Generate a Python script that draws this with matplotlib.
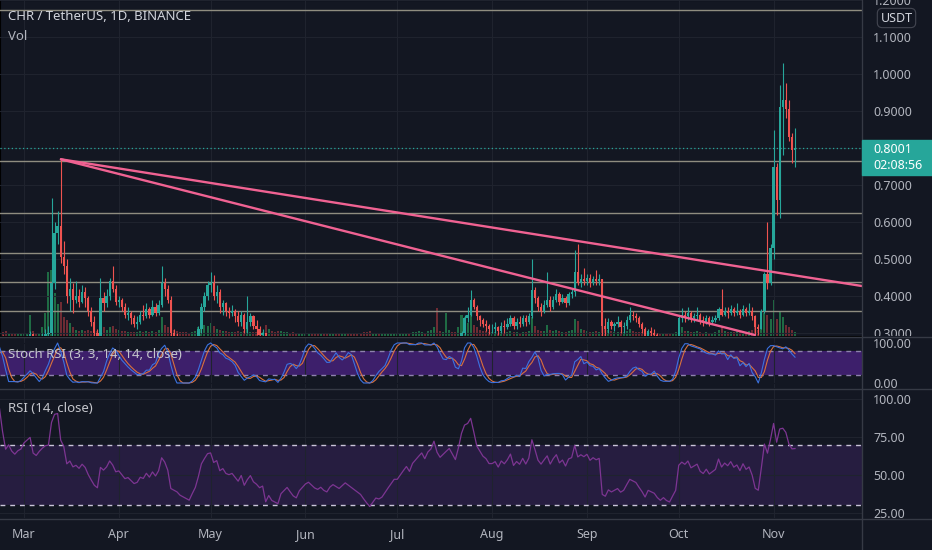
import numpy as np
import pandas as pd
import matplotlib
matplotlib.use("Agg")
import matplotlib.pyplot as plt
from matplotlib.lines import Line2D
from matplotlib.patches import Rectangle
from matplotlib.transforms import Bbox, TransformedBbox

plt.rcParams['font.family'] = ['Noto Sans', 'DejaVu Sans']

# CHR / USDT daily candles from 2021-02-01, one row per month (open = previous close)
start = "2021-02-01"
close = [
    0.120,0.125,0.135,0.130,0.140,0.150,0.145,0.160,0.170,0.180,0.175,0.190,0.200,0.195,0.210,0.220,0.235,0.245,0.260,0.280,0.290,0.265,0.240,0.255,0.245,0.240,0.250,0.255,
    0.275,0.285,0.296,0.272,0.268,0.280,0.290,0.298,0.300,0.435,0.570,0.590,0.505,0.480,0.400,0.420,0.390,0.400,0.385,0.410,0.395,0.360,0.330,0.300,0.285,0.395,0.380,0.400,0.440,0.420,0.385,
    0.390,0.370,0.350,0.355,0.340,0.325,0.330,0.350,0.345,0.365,0.350,0.370,0.355,0.375,0.435,0.420,0.390,0.300,0.290,0.280,0.260,0.250,0.240,0.230,0.250,0.270,0.310,0.370,0.400,0.430,
    0.435,0.400,0.410,0.370,0.380,0.360,0.355,0.360,0.345,0.330,0.350,0.310,0.330,0.345,0.320,0.310,0.295,0.300,0.220,0.240,0.210,0.200,0.190,0.220,0.230,0.240,0.220,0.200,0.190,0.210,0.220,
    0.230,0.235,0.225,0.215,0.210,0.215,0.205,0.200,0.210,0.215,0.210,0.205,0.210,0.215,0.210,0.205,0.200,0.195,0.190,0.180,0.170,0.160,0.165,0.170,0.168,0.170,0.175,0.180,0.185,0.190,
    0.190,0.195,0.200,0.205,0.200,0.210,0.215,0.220,0.225,0.220,0.230,0.235,0.250,0.240,0.235,0.240,0.245,0.250,0.245,0.240,0.260,0.300,0.340,0.350,0.390,0.370,0.345,0.335,0.325,0.320,0.310,
    0.310,0.315,0.305,0.320,0.315,0.325,0.340,0.320,0.330,0.325,0.340,0.330,0.345,0.415,0.395,0.370,0.360,0.375,0.390,0.370,0.390,0.405,0.385,0.395,0.380,0.405,0.410,0.465,0.435,0.445,0.440,
    0.450,0.435,0.445,0.440,0.445,0.320,0.310,0.330,0.320,0.325,0.330,0.315,0.320,0.335,0.350,0.345,0.340,0.325,0.310,0.290,0.305,0.300,0.295,0.280,0.270,0.275,0.265,0.260,0.270,0.280,
    0.340,0.350,0.345,0.355,0.340,0.345,0.350,0.335,0.330,0.340,0.330,0.335,0.340,0.365,0.350,0.360,0.355,0.365,0.355,0.360,0.350,0.365,0.355,0.360,0.345,0.315,0.310,0.360,0.460,0.435,0.530,
    0.750,0.660,0.910,0.930,0.905,0.830,0.795,0.8001,
]
high = [
    0.130,0.135,0.140,0.140,0.145,0.155,0.155,0.165,0.175,0.185,0.185,0.195,0.205,0.205,0.215,0.225,0.240,0.250,0.270,0.290,0.305,0.295,0.270,0.262,0.260,0.255,0.258,0.265,
    0.285,0.295,0.305,0.300,0.280,0.288,0.300,0.310,0.320,0.665,0.600,0.630,0.770,0.550,0.500,0.450,0.435,0.440,0.420,0.430,0.425,0.400,0.370,0.345,0.310,0.450,0.410,0.420,0.450,0.480,0.430,
    0.400,0.395,0.380,0.370,0.360,0.350,0.345,0.360,0.375,0.380,0.370,0.390,0.380,0.390,0.480,0.450,0.430,0.400,0.310,0.300,0.290,0.275,0.265,0.255,0.265,0.285,0.320,0.380,0.410,0.440,
    0.465,0.457,0.430,0.420,0.390,0.385,0.370,0.375,0.365,0.360,0.360,0.355,0.400,0.355,0.350,0.335,0.320,0.310,0.300,0.260,0.245,0.225,0.215,0.235,0.250,0.255,0.245,0.230,0.210,0.225,0.235,
    0.240,0.245,0.240,0.228,0.220,0.225,0.218,0.210,0.218,0.225,0.220,0.215,0.218,0.225,0.220,0.215,0.210,0.205,0.200,0.195,0.185,0.175,0.175,0.180,0.178,0.180,0.185,0.190,0.195,0.200,
    0.198,0.202,0.208,0.212,0.210,0.218,0.222,0.228,0.232,0.230,0.238,0.245,0.262,0.255,0.245,0.248,0.255,0.262,0.255,0.250,0.268,0.305,0.350,0.370,0.416,0.395,0.375,0.350,0.340,0.335,0.325,
    0.325,0.330,0.320,0.330,0.335,0.340,0.350,0.345,0.340,0.345,0.350,0.350,0.355,0.500,0.425,0.400,0.380,0.390,0.465,0.400,0.400,0.420,0.410,0.405,0.400,0.410,0.420,0.525,0.540,0.460,0.475,
    0.460,0.460,0.455,0.470,0.460,0.445,0.340,0.340,0.335,0.330,0.345,0.335,0.330,0.345,0.370,0.360,0.355,0.345,0.330,0.315,0.310,0.315,0.310,0.300,0.285,0.285,0.280,0.272,0.280,0.288,
    0.345,0.368,0.360,0.370,0.360,0.355,0.370,0.355,0.345,0.350,0.345,0.345,0.350,0.370,0.420,0.370,0.370,0.375,0.370,0.380,0.365,0.375,0.370,0.380,0.370,0.350,0.325,0.365,0.465,0.600,0.540,
    0.850,0.760,0.970,1.030,0.975,0.930,0.840,0.854,
]
low = [
    0.110,0.115,0.120,0.125,0.128,0.138,0.140,0.143,0.158,0.168,0.168,0.172,0.188,0.190,0.193,0.205,0.218,0.230,0.240,0.255,0.272,0.255,0.225,0.232,0.238,0.228,0.236,0.244,
    0.250,0.268,0.280,0.265,0.255,0.262,0.275,0.280,0.285,0.290,0.420,0.540,0.490,0.460,0.380,0.360,0.355,0.380,0.370,0.380,0.370,0.345,0.320,0.290,0.270,0.285,0.360,0.370,0.390,0.410,0.375,
    0.370,0.360,0.340,0.335,0.325,0.315,0.310,0.325,0.335,0.340,0.340,0.345,0.345,0.350,0.370,0.400,0.380,0.280,0.270,0.260,0.245,0.235,0.225,0.215,0.225,0.245,0.265,0.300,0.360,0.390,
    0.410,0.390,0.380,0.355,0.350,0.345,0.340,0.345,0.330,0.320,0.320,0.300,0.300,0.320,0.310,0.295,0.285,0.285,0.180,0.200,0.195,0.180,0.170,0.180,0.210,0.220,0.210,0.190,0.175,0.185,0.200,
    0.215,0.225,0.218,0.208,0.200,0.205,0.198,0.192,0.198,0.205,0.202,0.198,0.200,0.205,0.202,0.198,0.192,0.188,0.182,0.170,0.160,0.150,0.155,0.160,0.160,0.162,0.165,0.170,0.176,0.182,
    0.182,0.186,0.190,0.196,0.194,0.198,0.206,0.210,0.216,0.212,0.218,0.226,0.232,0.235,0.228,0.230,0.236,0.240,0.238,0.232,0.238,0.258,0.295,0.330,0.345,0.365,0.335,0.320,0.315,0.305,0.298,
    0.300,0.300,0.295,0.300,0.300,0.310,0.320,0.310,0.310,0.315,0.320,0.320,0.325,0.340,0.380,0.360,0.345,0.355,0.370,0.360,0.365,0.385,0.375,0.380,0.370,0.375,0.395,0.400,0.430,0.425,0.430,
    0.430,0.425,0.430,0.430,0.430,0.290,0.280,0.300,0.310,0.305,0.315,0.300,0.300,0.310,0.330,0.335,0.330,0.315,0.300,0.280,0.285,0.290,0.280,0.270,0.260,0.262,0.255,0.250,0.258,0.265,
    0.280,0.330,0.330,0.335,0.330,0.330,0.335,0.325,0.320,0.325,0.320,0.325,0.330,0.335,0.345,0.345,0.340,0.350,0.345,0.350,0.340,0.345,0.345,0.350,0.335,0.295,0.295,0.310,0.355,0.420,0.430,
    0.500,0.620,0.610,0.780,0.880,0.820,0.760,0.750,
]
volume = [
    3,3,4,3,4,4,3,5,5,6,4,5,6,4,6,6,7,6,8,10,4,4,5,3,3,2,2,3,
    3,3,20,5,3,3,8,22,60,62,40,30,32,18,15,12,8,6,5,6,5,6,5,6,5,14,8,6,8,9,7,
    6,5,5,4,4,4,4,5,4,5,4,5,4,6,18,10,8,14,6,5,4,4,4,3,4,5,8,14,10,9,
    12,9,7,6,5,5,4,4,4,5,4,5,7,4,4,4,4,4,10,7,5,4,5,5,4,4,3,4,3,3,3,
    3,3,3,3,2,3,2,2,3,3,2,2,3,3,2,2,2,3,3,4,4,5,3,3,2,2,2,3,3,3,
    3,3,3,3,3,4,4,5,4,3,5,6,8,26,5,4,22,6,4,4,8,20,18,12,22,10,8,6,5,5,4,
    4,4,3,4,3,4,5,4,4,3,4,4,5,18,9,6,5,5,10,6,5,6,5,4,4,5,6,16,14,7,6,
    5,4,4,5,4,16,9,6,5,4,4,4,4,5,7,5,4,4,4,5,4,3,3,3,3,3,3,3,3,4,
    12,8,5,5,4,4,5,4,3,4,3,3,4,6,9,5,4,4,4,5,4,4,4,5,6,8,6,10,22,20,16,
    34,16,23,18,10,8,6,4,
]

levels = [1.173, 0.7657, 0.6251, 0.5162, 0.4386, 0.3603]
trend_a = [("2021-03-13 02:00", 0.7695), ("2021-11-29 21:00", 0.427)]
trend_b = [("2021-03-13 02:00", 0.7695), ("2021-10-25 21:00", 0.2946)]
last_price = 0.8001
countdown = "02:08:56"
month_names = ["Mar", "Apr", "May", "Jun", "Jul", "Aug", "Sep", "Oct", "Nov"]

BG = '#131722'
GRID = '#1f232e'
SEP = '#363a45'
TXT = '#b2b5be'
UP = '#26a69a'
DN = '#ef5350'

W, H = 932, 550
def fx(px):
    return px / W
def fy(py):
    return 1 - py / H

dates = pd.date_range(start, periods=len(close), freq="D")
c = np.array(close)
o = np.r_[c[0], c[:-1]]
hi = np.array(high)
lo = np.array(low)
up = c >= o
cols = np.where(up, UP, DN)

# indicators
s = pd.Series(c)
delta = s.diff()
gain = delta.clip(lower=0).ewm(alpha=1/14, adjust=False).mean()
loss = (-delta.clip(upper=0)).ewm(alpha=1/14, adjust=False).mean()
rsi = 100 - 100 / (1 + gain / loss)
rlo = rsi.rolling(14).min()
rhi = rsi.rolling(14).max()
stoch = 100 * (rsi - rlo) / (rhi - rlo)
k = stoch.rolling(3).mean()
d = k.rolling(3).mean()

fig = plt.figure(figsize=(9.32, 5.5), dpi=100, facecolor=BG)
pw = fx(862)
ax = fig.add_axes([0, fy(336), pw, 336 / H])
ax_st = fig.add_axes([0, fy(388), pw, 51 / H], sharex=ax)
ax_rsi = fig.add_axes([0, fy(518), pw, 129 / H], sharex=ax)

ax_vol = ax.twinx()
ax_vol.set_zorder(0)
ax.set_zorder(1)
ax.patch.set_visible(False)
ax_vol.set_facecolor(BG)
ax_vol.bar(dates, volume, width=0.66, color=np.where(up, '#1f6b44', '#6e2b33'), linewidth=0)
ax_vol.set_ylim(0, 315)
ax_vol.set_yticks([])
ax_vol.tick_params(right=False, labelright=False)

# candles
ax.vlines(dates, lo, hi, colors=cols, linewidth=0.8, zorder=3)
ax.bar(dates, np.maximum(np.abs(c - o), 0.002), bottom=np.minimum(o, c), width=0.74,
       color=cols, linewidth=0, zorder=4)

for lv in levels:
    ax.axhline(lv, color='#8f8d80', lw=1.0, zorder=2)
ax.axhline(last_price, color=UP, lw=0.9, ls=(0, (1, 2)), zorder=2)

for tl in (trend_a, trend_b):
    ax.plot([pd.Timestamp(tl[0][0]), pd.Timestamp(tl[1][0])], [tl[0][1], tl[1][1]],
            color='#f06292', lw=1.7, zorder=5, solid_capstyle='round')

ax.set_ylim(0.2919, 1.2)
ax.set_yticks(np.arange(0.3, 1.21, 0.1))
ax.set_yticklabels(["%.4f" % v for v in np.arange(0.3, 1.21, 0.1)])
ax.yaxis.tick_right()

# stoch rsi
ax_st.set_facecolor(BG)
ax_st.axhspan(20, 80, color='#3d1f6b', lw=0, zorder=0)
for lv in (20, 80):
    ax_st.axhline(lv, color='#8e82ad', lw=1.0, ls=(0, (3.5, 3.5)), zorder=1)
ax_st.plot(dates, k, color='#3b72e0', lw=0.8, zorder=3)
ax_st.plot(dates, d, color='#d9703c', lw=0.8, zorder=2)
ax_st.set_ylim(-12.5, 115)
ax_st.set_yticks([0, 100])
ax_st.set_yticklabels(["0.00", "100.00"])
ax_st.yaxis.tick_right()

# rsi
ax_rsi.set_facecolor(BG)
ax_rsi.axhspan(30, 70, color='#261d40', lw=0, zorder=0)
for lv in (30, 70):
    ax_rsi.axhline(lv, color='#c9c4d8', lw=1.0, ls=(0, (3.5, 3.5)), zorder=1)
ax_rsi.plot(dates, rsi, color='#7d3592', lw=0.9, zorder=3)
ax_rsi.set_ylim(21.7, 106.6)
ax_rsi.set_yticks([25, 50, 75, 100])
ax_rsi.set_yticklabels(["25.00", "50.00", "75.00", "100.00"])
ax_rsi.yaxis.tick_right()

months = pd.date_range("2021-03-01", "2021-11-01", freq="MS")
ax.set_xlim(pd.Timestamp("2021-02-21 04:00"), pd.Timestamp("2021-11-29 21:30"))
ax_rsi.set_xticks(months)
ax_rsi.set_xticklabels(month_names)

for a in (ax, ax_st, ax_rsi):
    for sp in a.spines.values():
        sp.set_visible(False)
    a.grid(True, color=GRID, lw=0.8, zorder=0)
    a.set_axisbelow(True)
    a.tick_params(axis='y', length=0, pad=8, labelsize=9, labelcolor=TXT)
    a.tick_params(axis='x', length=0, pad=7, labelsize=9, labelcolor=TXT)
    pos = a.get_position()
    box = TransformedBbox(Bbox([[0, pos.y0], [1, pos.y1]]), fig.transFigure)
    for t in a.yaxis.get_major_ticks():
        t.label2.set_clip_box(box)
        t.label2.set_clip_on(True)
ax.tick_params(axis='x', labelbottom=False)
ax_st.tick_params(axis='x', labelbottom=False)
ax_st.grid(True, axis='y', color=BG)

# pane separators
for py in (336.5, 388.5, 518.5):
    fig.add_artist(Line2D([0, 1], [fy(py), fy(py)], transform=fig.transFigure, color=SEP, lw=1))
fig.add_artist(Line2D([pw, pw], [0, 1], transform=fig.transFigure, color=SEP, lw=1))

# last price tag
fig.add_artist(Rectangle((fx(862), fy(175)), fx(70), 35 / H, transform=fig.transFigure,
                         color=UP, zorder=5))
fig.text(fx(873), fy(149), "%.4f" % last_price, color='white', fontsize=9, va='center', zorder=6)
fig.text(fx(873), fy(166), countdown, color='white', fontsize=9, va='center', zorder=6)
fig.text(fx(896.5), fy(18), "USDT", color='#d1d4dc', fontsize=9, ha='center', va='center', zorder=6,
         bbox=dict(boxstyle='round,pad=0.25,rounding_size=0.4', fc=BG, ec='#434651', lw=0.8))

# pane titles
fig.text(fx(8), fy(17), "CHR / TetherUS, 1D, BINANCE", color='#d1d4dc', fontsize=9.5,
         weight='semibold', va='center', zorder=6)
fig.text(fx(8), fy(37), "Vol", color=TXT, fontsize=9.5, va='center', zorder=6)
fig.text(fx(8), fy(354), "Stoch RSI (3, 3, 14, 14, close)", color='#c5c6cc', fontsize=9.5,
         va='center', zorder=6)
fig.text(fx(8), fy(408), "RSI (14, close)", color='#c5c6cc', fontsize=9.5, va='center', zorder=6)

fig.savefig("out.png", dpi=100, facecolor=BG)
